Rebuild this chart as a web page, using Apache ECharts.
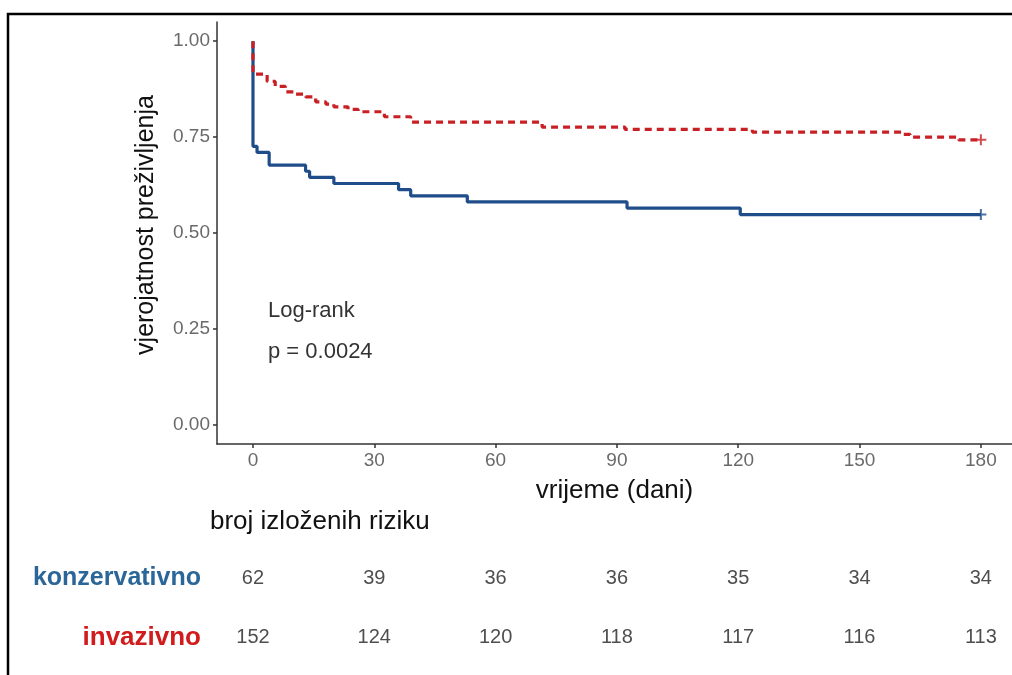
<!DOCTYPE html>
<html>
<head>
<meta charset="utf-8">
<script src="https://cdn.jsdelivr.net/npm/echarts@6/dist/echarts.min.js"></script>
<style>
html,body{margin:0;padding:0;background:#fff;}
#chart{width:1012px;height:675px;}
</style>
</head>
<body>
<div id="chart"></div>
<script>
// ---- data ----
const xTicks = [0, 30, 60, 90, 120, 150, 180];
const yTicks = [0, 0.25, 0.5, 0.75, 1.0];

// konzervativno (solid blue) Kaplan-Meier steps
const konTimes = [0, 0, 1, 4, 13, 14, 20, 36, 39, 53, 92.5, 120.5, 180];
const konSurv  = [1.0, 0.726, 0.710, 0.677, 0.661, 0.645, 0.629, 0.613, 0.597, 0.581, 0.565, 0.548, 0.548];

// invazivno (dashed red) Kaplan-Meier steps
const invTimes = [0, 0, 3.5, 5.5, 8, 10, 13, 15.5, 18, 20, 23.5, 26, 32.5, 39, 71.5, 92, 123.5, 160.5, 162.5, 174.5, 180];
const invSurv  = [1.0, 0.914, 0.895, 0.882, 0.868, 0.862, 0.855, 0.842, 0.836, 0.829, 0.822, 0.816, 0.803, 0.789, 0.776, 0.770, 0.763, 0.757, 0.750, 0.743, 0.743];

// censor marks
const konCensor = [[180, 0.548]];
const invCensor = [[180, 0.743]];

// number at risk table
const groups = ['konzervativno', 'invazivno'];
const riskTimes = [0, 30, 60, 90, 120, 150, 180];
const konRisk = [62, 39, 36, 36, 35, 34, 34];
const invRisk = [152, 124, 120, 118, 117, 116, 113];

// ---- styles ----
const FONT = '"Liberation Sans", Arial, sans-serif';
const BLUE = '#1f4d8a';
const RED = '#c92026';
const BLUE_LABEL = '#2b6698';
const RED_LABEL = '#d01c1c';
const X_MIN = -8.9, X_MAX = 187.7;

const chart = echarts.init(document.getElementById('chart'), null, {renderer: 'canvas'});

const plus = 'path://M0,5L10,5M5,0L5,10';

const option = {
  backgroundColor: '#fff',
  animation: false,
  textStyle: {fontFamily: FONT},
  grid: [
    {left: 217, top: 22, right: 0, height: 422},
    {left: 217, top: 549, right: 0, height: 118}
  ],
  xAxis: [
    {
      type: 'value', gridIndex: 0, min: X_MIN, max: X_MAX,
      name: 'vrijeme (dani)', nameLocation: 'middle', nameGap: 34,
      nameTextStyle: {fontSize: 26, color: '#111', fontFamily: FONT},
      axisLine: {show: true, onZero: false, lineStyle: {color: '#333', width: 1.5}},
      axisTick: {show: true, length: 4, customValues: xTicks, lineStyle: {color: '#333', width: 1.5}},
      axisLabel: {show: true, customValues: xTicks, margin: 7, fontSize: 19, color: '#6a6a6a', fontFamily: FONT},
      splitLine: {show: false}
    },
    {
      type: 'value', gridIndex: 1, min: X_MIN, max: X_MAX, show: false
    }
  ],
  yAxis: [
    {
      type: 'value', gridIndex: 0, min: -0.05, max: 1.05,
      axisLine: {show: true, onZero: false, lineStyle: {color: '#333', width: 1.5}},
      axisTick: {show: true, length: 4, customValues: yTicks, lineStyle: {color: '#333', width: 1.5}},
      axisLabel: {show: true, customValues: yTicks, margin: 7, fontSize: 19, color: '#6a6a6a', fontFamily: FONT,
        formatter: v => v.toFixed(2)},
      splitLine: {show: false}
    },
    {
      type: 'category', gridIndex: 1, data: groups, inverse: true,
      axisLine: {show: false}, axisTick: {show: false}, splitLine: {show: false},
      axisLabel: {
        margin: 16, fontFamily: FONT,
        formatter: v => (v === 'konzervativno' ? '{k|' + v + '}' : '{i|' + v + '}'),
        rich: {
          k: {fontSize: 25, fontWeight: 'bold', color: BLUE_LABEL, fontFamily: FONT},
          i: {fontSize: 26, fontWeight: 'bold', color: RED_LABEL, fontFamily: FONT}
        }
      }
    }
  ],
  series: [
    {
      name: 'konzervativno', type: 'line', xAxisIndex: 0, yAxisIndex: 0,
      step: 'end', showSymbol: false, symbol: 'none',
      data: konTimes.map((t, i) => [t, konSurv[i]]),
      lineStyle: {color: BLUE, width: 3.2},
      z: 2
    },
    {
      name: 'invazivno', type: 'line', xAxisIndex: 0, yAxisIndex: 0,
      step: 'end', showSymbol: false, symbol: 'none',
      data: invTimes.map((t, i) => [t, invSurv[i]]),
      lineStyle: {color: RED, width: 3.2, type: [7, 5]},
      z: 3
    },
    {
      type: 'scatter', xAxisIndex: 0, yAxisIndex: 0, data: konCensor,
      symbol: plus, symbolSize: 11,
      itemStyle: {color: 'rgba(0,0,0,0)', borderColor: BLUE, borderWidth: 2}, z: 4
    },
    {
      type: 'scatter', xAxisIndex: 0, yAxisIndex: 0, data: invCensor,
      symbol: plus, symbolSize: 11,
      itemStyle: {color: 'rgba(0,0,0,0)', borderColor: RED, borderWidth: 2}, z: 4
    },
    {
      type: 'scatter', xAxisIndex: 1, yAxisIndex: 1,
      data: konRisk.map((n, i) => [riskTimes[i], groups[0], n]),
      symbolSize: 1, itemStyle: {color: 'rgba(0,0,0,0)'},
      label: {show: true, position: 'inside', formatter: p => String(p.value[2]),
        fontSize: 20, color: '#222', fontFamily: FONT}
    },
    {
      type: 'scatter', xAxisIndex: 1, yAxisIndex: 1,
      data: invRisk.map((n, i) => [riskTimes[i], groups[1], n]),
      symbolSize: 1, itemStyle: {color: 'rgba(0,0,0,0)'},
      label: {show: true, position: 'inside', formatter: p => String(p.value[2]),
        fontSize: 20, color: '#222', fontFamily: FONT}
    }
  ],
  graphic: [
    {type: 'rect', shape: {x: 8, y: 14, width: 1030, height: 700},
      style: {fill: 'none', stroke: '#000', lineWidth: 2.5}, silent: true, z: 10},
    {type: 'text', x: 146, y: 225, rotation: Math.PI / 2,
      style: {text: 'vjerojatnost preživljenja', fontSize: 25, fill: '#111', fontFamily: FONT,
        align: 'center', verticalAlign: 'middle'}},
    {type: 'text', x: 210, y: 522,
      style: {text: 'broj izloženih riziku', fontSize: 26, fill: '#111', fontFamily: FONT,
        align: 'left', verticalAlign: 'middle'}},
    {type: 'text', x: 268, y: 311,
      style: {text: 'Log-rank', fontSize: 22, fill: '#333', fontFamily: FONT,
        align: 'left', verticalAlign: 'middle'}},
    {type: 'text', x: 268, y: 352,
      style: {text: 'p = 0.0024', fontSize: 22, fill: '#333', fontFamily: FONT,
        align: 'left', verticalAlign: 'middle'}}
  ]
};

chart.setOption(option);
</script>
</body>
</html>
